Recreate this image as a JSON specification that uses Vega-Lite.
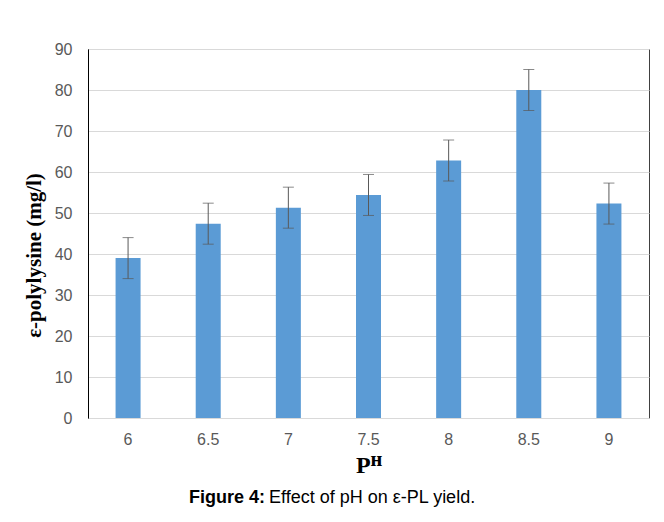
{
  "$schema": "https://vega.github.io/schema/vega-lite/v6.json",
  "width": 561,
  "height": 369,
  "autosize": "none",
  "padding": {"left": 88, "top": 49, "right": 15, "bottom": 104},
  "background": "white",
  "data": {
    "values": [
      {"ph": "6", "yield": 39.0, "err": 5},
      {"ph": "6.5", "yield": 47.4, "err": 5},
      {"ph": "7", "yield": 51.3, "err": 5},
      {"ph": "7.5", "yield": 54.4, "err": 5},
      {"ph": "8", "yield": 62.8, "err": 5},
      {"ph": "8.5", "yield": 80.0, "err": 5},
      {"ph": "9", "yield": 52.3, "err": 5}
    ]
  },
  "title": {
    "text": "Figure 4:",
    "subtitle": "\u200b\u00a0\u00a0\u00a0\u00a0\u00a0\u00a0\u00a0\u00a0\u00a0\u00a0\u00a0\u00a0\u00a0\u00a0\u00a0 Effect of pH on \u03b5-PL yield.",
    "orient": "bottom",
    "anchor": "start",
    "frame": "group",
    "dx": 101,
    "offset": 12,
    "font": "Liberation Sans",
    "fontSize": 18,
    "fontWeight": "bold",
    "color": "black",
    "subtitleFont": "Liberation Sans",
    "subtitleFontSize": 18,
    "subtitleColor": "black",
    "subtitlePadding": -18
  },
  "encoding": {
    "x": {
      "field": "ph",
      "type": "nominal",
      "sort": null,
      "title": "P\u1d34",
      "axis": {
        "labelAngle": 0,
        "labelFont": "Liberation Sans",
        "labelFontSize": 16,
        "labelColor": "#595959",
        "labelPadding": 13,
        "ticks": false,
        "domainColor": "#d9d9d9",
        "titleFont": "Liberation Serif",
        "titleFontSize": 24,
        "titleFontWeight": "bold",
        "titleColor": "black",
        "titlePadding": 6
      }
    },
    "y": {
      "field": "yield",
      "type": "quantitative",
      "scale": {"domain": [0, 90]},
      "title": "\u03b5-polylysine (mg/l)",
      "axis": {
        "values": [0, 10, 20, 30, 40, 50, 60, 70, 80, 90],
        "labelFont": "Liberation Sans",
        "labelFontSize": 16,
        "labelColor": "#595959",
        "labelPadding": 16,
        "ticks": false,
        "domainColor": "#000000",
        "gridColor": "#d9d9d9",
        "titleFont": "Liberation Serif",
        "titleFontSize": 21,
        "titleFontWeight": "bold",
        "titleColor": "black",
        "titlePadding": 10,
        "titleY": 206
      }
    }
  },
  "layer": [
    {
      "mark": {"type": "bar", "color": "#5b9bd5", "width": 25}
    },
    {
      "mark": {"type": "errorbar", "ticks": {"size": 11, "color": "#595959"}, "rule": {"color": "#595959"}},
      "encoding": {
        "yError": {"field": "err"}
      }
    }
  ],
  "config": {
    "view": {"stroke": "#404040", "strokeWidth": 1}
  }
}
